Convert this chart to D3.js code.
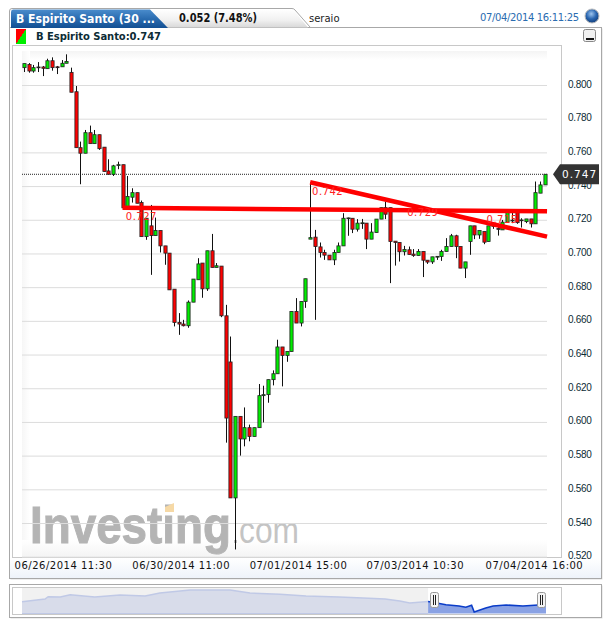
<!DOCTYPE html>
<html>
<head>
<meta charset="utf-8">
<script src="https://cdnjs.cloudflare.com/ajax/libs/d3/7.8.5/d3.min.js"></script>
<style>
html,body{margin:0;padding:0;background:#fff;overflow:hidden;}
svg{display:block;}
text{font-family:"DejaVu Sans",sans-serif;}
</style>
</head>
<body>
<div class="container"></div>
<script>
var WIDTH = 613, HEIGHT = 627;

var opens = [.8103,.8122,.8083,.8107,.8107,.8097,.8144,.8108,.8108,.8129,.8075,.7960,.7628,.7595,.7717,.7652,.7705,.7631,.7490,.7470,.7523,.7527,.7271,.7334,.7361,.7302,.7100,.7164,.7106,.7136,.7045,.7002,.6788,.6590,.6581,.6571,.6711,.6844,.6943,.6790,.7016,.6917,.6925,.6630,.6356,.5549,.6033,.5899,.5966,.5914,.5966,.6156,.6162,.6251,.6286,.6445,.6395,.6418,.6656,.6587,.6715,.7085,.7097,.7039,.7006,.6990,.6962,.7006,.7045,.7207,.7209,.7144,.7177,.7180,.7085,.7124,.7204,.7272,.7272,.7073,.7065,.7010,.7022,.6996,.6988,.7012,.6960,.6950,.6978,.6982,.7012,.7041,.7105,.7041,.6913,.7071,.7164,.7110,.7130,.7071,.7161,.7148,.7140,.7186,.7193,.7243,.7195,.7189,.7205,.7176,.7358,.7407];
var closes = [.8127,.8083,.8103,.8104,.8099,.8144,.8103,.8103,.8129,.8140,.7957,.7628,.7595,.7717,.7652,.7705,.7622,.7486,.7470,.7520,.7527,.7271,.7338,.7361,.7298,.7100,.7209,.7106,.7136,.7045,.7002,.6784,.6590,.6581,.6571,.6711,.6848,.6938,.6790,.7016,.6917,.6927,.6630,.6023,.5549,.6033,.5899,.5966,.5914,.5966,.6156,.6162,.6251,.6286,.6445,.6395,.6418,.6656,.6587,.6715,.6850,.7094,.7041,.7006,.6990,.6962,.7006,.7045,.7209,.7211,.7144,.7180,.7182,.7085,.7127,.7204,.7272,.7233,.7071,.7065,.7010,.7023,.6994,.6988,.7012,.6960,.6949,.6980,.6983,.7012,.7041,.7105,.7041,.6913,.6950,.7164,.7110,.7136,.7067,.7164,.7166,.7143,.7186,.7243,.7198,.7183,.7199,.7205,.7176,.7361,.7407,.7470];
var highs = [.8127,.8130,.8119,.8136,.8113,.8156,.8164,.8113,.8148,.8182,.8103,.7994,.7664,.7733,.7759,.7733,.7705,.7631,.7559,.7526,.7545,.7527,.7460,.7387,.7361,.7314,.7209,.7288,.7213,.7136,.7045,.7002,.6788,.6646,.6606,.6721,.6848,.6972,.6943,.7016,.7116,.6943,.6925,.6695,.6507,.6033,.6033,.6086,.5984,.5966,.6225,.6215,.6251,.6306,.6488,.6445,.6418,.6656,.6735,.6715,.6850,.7423,.7140,.7065,.7022,.6990,.7022,.7065,.7239,.7213,.7209,.7204,.7205,.7180,.7180,.7204,.7272,.7308,.7272,.7073,.7065,.7045,.7041,.7026,.7026,.7012,.6960,.6980,.6983,.7022,.7091,.7116,.7111,.7041,.6950,.7164,.7164,.7136,.7130,.7164,.7174,.7166,.7199,.7243,.7249,.7243,.7209,.7205,.7205,.7427,.7427,.7470];
var lows = [.8077,.8073,.8073,.8077,.8053,.8097,.8085,.8065,.8108,.8129,.7957,.7628,.7411,.7595,.7652,.7652,.7615,.7486,.7470,.7460,.7500,.7271,.7271,.7302,.7298,.7100,.7081,.6873,.7106,.7006,.6933,.6784,.6567,.6517,.6567,.6559,.6711,.6844,.6737,.6778,.6917,.6917,.6622,.5877,.5549,.5243,.5800,.5855,.5885,.5914,.5966,.5997,.6114,.6217,.6286,.6211,.6357,.6418,.6587,.6567,.6677,.7085,.6606,.6976,.6962,.6962,.6931,.7006,.7045,.7105,.7121,.7130,.7146,.7026,.7085,.7124,.7204,.7204,.6824,.6928,.6952,.6988,.6994,.6980,.6988,.6860,.6938,.6938,.6962,.6956,.7012,.7041,.6972,.6913,.6854,.6992,.7085,.7087,.7055,.7071,.7146,.7106,.7140,.7186,.7180,.7176,.7154,.7180,.7154,.7176,.7358,.7407];

var yTicks = [.52,.54,.56,.58,.60,.62,.64,.66,.68,.70,.72,.74,.76,.78,.80];
var xTickIndex = [8.3,33.4,58.4,83.3,108.7];
var xTickLabels = ["06/26/2014 11:30","06/30/2014 11:00","07/01/2014 15:00","07/03/2014 10:30","07/04/2014 16:00"];

var lastPrice = 0.747;
var trendLines = [
    [{i:21,v:.7271},{i:111.5,v:.7250}],
    [{i:61,v:.7423},{i:111.5,v:.7100}]
];
var drawLabels = [
    {i:21.7,v:.7199,t:"0.727"},
    {i:61.4,v:.7346,t:"0.742"},
    {i:81.7,v:.7223,t:"0.729"},
    {i:98.6,v:.7182,t:"0.715"}
];

var navPos = [0,4.4,5,7.3,9.2,13.9,18.7,23.5,26.3,32.1,39.7,43.5,49.2,54.2,60.5,65.1,69.3,72.1,74,77.5,79.4,80.9,83.4,84.7,85.8,86.3,88.5,89.9,92.4,95.6,98.5,100];
var navVals = [.83,.91,.978,.97,1.038,.97,1.029,1,1.088,1.177,1.177,1.088,1.05,1,.97,.94,.91,.851,.791,.836,.782,.741,.702,.664,.723,.524,.643,.702,.732,.702,.732,.747];
var navStart = 77.5;

var svg = d3.select('.container').append('svg')
    .attr('width',WIDTH)
    .attr('height',HEIGHT);

var defs = svg.append('defs');

var addGradient = function(id,stops,horizontal){
    var g = defs.append('linearGradient').attr('id',id)
        .attr('x1',0).attr('y1',0)
        .attr('x2',horizontal ? 1 : 0).attr('y2',horizontal ? 0 : 1);
    stops.forEach(function(s){
        g.append('stop').attr('offset',s[0]).attr('stop-color',s[1]);
    });
};
addGradient('tabBlue',[[0,'#4a8ccc'],[.5,'#2a6cb0'],[1,'#124f93']]);
addGradient('tabGrey',[[0,'#ffffff'],[.6,'#f0f0f0'],[1,'#d8d8d8']]);
addGradient('plotTop',[[0,'#f4f4f4'],[1,'#ffffff']]);
addGradient('plotBottom',[[0,'#ffffff'],[1,'#f4f4f4']]);
addGradient('plotLeft',[[0,'#f6f6f6'],[1,'#ffffff']],true);
addGradient('axisStrip',[[0,'#ffffff'],[1,'#eef3fa']]);

var icon = defs.append('linearGradient').attr('id','legendIcon')
    .attr('x1',0).attr('y1',0).attr('x2',1).attr('y2',1);
icon.append('stop').attr('offset',.5).attr('stop-color','#ff0000');
icon.append('stop').attr('offset',.5).attr('stop-color','#00ee00');

var ball = defs.append('radialGradient').attr('id','ball').attr('cx',.45).attr('cy',.35).attr('r',.65);
ball.append('stop').attr('offset',0).attr('stop-color','#9cc4ee');
ball.append('stop').attr('offset',.55).attr('stop-color','#2a66b0');
ball.append('stop').attr('offset',1).attr('stop-color','#123f7c');

// scales
var xScale = d3.scaleLinear().domain([0,opens.length-1]).range([24,544.7]);
var yScale = d3.scaleLinear().domain([.52,.80]).range([556.7,85]);

// outer panels
svg.append('rect').attr('x',10.5).attr('y',28.5).attr('width',592).attr('height',551).attr('fill','#ddd');
svg.append('rect').attr('x',9.5).attr('y',27.5).attr('width',592).attr('height',551)
    .attr('fill','#fff').attr('stroke','#a8a8a8');
svg.append('rect').attr('x',10).attr('y',558).attr('width',591).attr('height',20).attr('fill','url(#axisStrip)');

// header tabs
svg.append('path').attr('d','M150,9.5 L293,9.5 L308,27.5 L160,27.5 Z')
    .attr('fill','url(#tabGrey)').attr('stroke','none');
svg.append('path').attr('d','M148,8.5 L292,8.5 Q294,8.5 295,10 L310,27').attr('fill','none').attr('stroke','#a8a8a8');
svg.append('path').attr('d','M9.5,27 L9.5,11 Q9.5,8.5 12,8.5 L150,8.5').attr('fill','none').attr('stroke','#a8a8a8');
svg.append('path').attr('d','M11,28 L11,12 Q11,9.5 13,9.5 L150,9.5 L168,28 Z').attr('fill','url(#tabBlue)');

svg.append('text').attr('x',16).attr('y',23).attr('fill','#fff')
    .style('font-size','12px').style('font-family','"DejaVu Sans"').style('font-weight','bold')
    .attr('textLength',139).attr('lengthAdjust','spacingAndGlyphs')
    .text('B Espirito Santo (30 ...');
svg.append('text').attr('x',179).attr('y',22).attr('fill','#111')
    .style('font-size','12px').style('font-family','"DejaVu Sans"').style('font-weight','bold')
    .attr('textLength',78).attr('lengthAdjust','spacingAndGlyphs')
    .text('0.052 (7.48%)');
svg.append('text').attr('x',309).attr('y',22).attr('fill','#222')
    .style('font-size','10px').text('seraio');
svg.append('text').attr('x',579).attr('y',21).attr('text-anchor','end').attr('fill','#2a6cb0')
    .style('font-size','10px').attr('textLength',99).text('07/04/2014 16:11:25');
svg.append('circle').attr('cx',592).attr('cy',16).attr('r',7)
    .attr('fill','url(#ball)').attr('stroke','#bbb');

// minimise button
svg.append('rect').attr('x',583.5).attr('y',29.5).attr('width',12).attr('height',12).attr('rx',2)
    .attr('fill','#f0f0f0').attr('stroke','#888');
svg.append('rect').attr('x',586).attr('y',38).attr('width',8).attr('height',2).attr('fill','#111');

// legend row
svg.append('rect').attr('x',16).attr('y',29).attr('width',10).attr('height',15).attr('fill','url(#legendIcon)');
svg.append('text').attr('x',36).attr('y',40).attr('fill','#0c2b35')
    .style('font-size','10px').style('font-weight','bold')
    .attr('textLength',125).text('B Espirito Santo:0.747');

// plot frame and background
svg.append('rect').attr('x',12.5).attr('y',45.5).attr('width',549).attr('height',512)
    .attr('fill','#fff').attr('stroke','#c8c8c8');
svg.append('rect').attr('x',22).attr('y',51).attr('width',525).attr('height',9).attr('fill','url(#plotTop)');
svg.append('rect').attr('x',22).attr('y',51).attr('width',8).attr('height',506).attr('fill','url(#plotLeft)');
svg.append('rect').attr('x',22).attr('y',540).attr('width',525).attr('height',17).attr('fill','url(#plotBottom)');

// watermark
var mark = svg.append('g');
mark.append('text').attr('x',30).attr('y',543).attr('fill','#b4b4b4')
    .attr('stroke','#b4b4b4').attr('stroke-width',1)
    .style('font-family','"Liberation Sans"').style('font-weight','bold').style('font-size','52px')
    .attr('textLength',201).attr('lengthAdjust','spacingAndGlyphs').text('Investing');
mark.append('path').attr('d','M165,507 L174,503 L174,512 L165,512 Z').attr('fill','#f6d9a6');
mark.append('text').attr('x',239).attr('y',543).attr('fill','#c4c4c4')
    .style('font-family','"Liberation Sans"').style('font-size','36px')
    .attr('textLength',60).attr('lengthAdjust','spacingAndGlyphs').text('com');
mark.append('rect').attr('x',234).attr('y',540).attr('width',3).attr('height',3).attr('fill','#c4c4c4');

// gridlines
var grid = svg.append('g').attr('transform','translate(547,0)')
    .call(d3.axisLeft(yScale).tickValues(yTicks).tickSize(525).tickFormat(''));
grid.select('.domain').remove();
grid.selectAll('line').attr('stroke','#dcdcdc');

// y axis
var yAxis = svg.append('g').attr('transform','translate(568,0)')
    .call(d3.axisRight(yScale).tickValues(yTicks).tickSize(0).tickPadding(0).tickFormat(d3.format('.3f')));
yAxis.select('.domain').remove();
yAxis.selectAll('text').attr('fill','#0c2b35')
    .style('font-family','"Liberation Sans"').style('font-size','10px')
    .style('letter-spacing','-.3px').attr('dy','.2em');

// x axis
var xAxis = svg.append('g').attr('transform','translate(0,560)')
    .call(d3.axisBottom(xScale).tickValues(xTickIndex).tickSize(0).tickPadding(0)
        .tickFormat(function(d,i){return xTickLabels[i];}));
xAxis.select('.domain').remove();
xAxis.selectAll('text').attr('fill','#111')
    .style('font-size','10px').style('letter-spacing','.5px').attr('dy','.9em');

// last price dotted line
svg.append('line').attr('x1',22).attr('x2',547)
    .attr('y1',yScale(lastPrice)).attr('y2',yScale(lastPrice))
    .attr('stroke','#222').attr('stroke-dasharray','1,1');

// candles
var indexes = d3.range(opens.length);
var candles = svg.append('g').selectAll('g').data(indexes).enter().append('g');
candles.append('line')
    .attr('x1',function(i){return Math.round(xScale(i))+.5;})
    .attr('x2',function(i){return Math.round(xScale(i))+.5;})
    .attr('y1',function(i){return yScale(highs[i]);})
    .attr('y2',function(i){return yScale(lows[i]);})
    .attr('stroke','#111');
candles.append('rect')
    .attr('x',function(i){return Math.round(xScale(i))-1.1;})
    .attr('width',3.2)
    .attr('y',function(i){return yScale(Math.max(opens[i],closes[i]));})
    .attr('height',function(i){return Math.max(.8,Math.abs(yScale(opens[i])-yScale(closes[i])));})
    .attr('fill',function(i){return closes[i]>=opens[i] ? '#00ee00' : '#ff0000';})
    .attr('stroke','#222').attr('stroke-width',.8);

// trend lines drawn by the user
var _line = d3.line()
    .x(function(d){return xScale(d.i);})
    .y(function(d){return yScale(d.v);});
svg.append('g').selectAll('path').data(trendLines).enter().append('path')
    .attr('d',_line).attr('fill','none').attr('stroke','#ff0000').attr('stroke-width',4.5);
svg.append('g').selectAll('text').data(drawLabels).enter().append('text')
    .attr('x',function(d){return xScale(d.i);})
    .attr('y',function(d){return yScale(d.v);})
    .attr('fill','#ff2020').style('font-size','10px').style('letter-spacing','.5px')
    .text(function(d){return d.t;});

// price tag
var tagY = yScale(lastPrice);
svg.append('path')
    .attr('d','M553,'+tagY+' L560,'+(tagY-10)+' L599,'+(tagY-10)+' L599,'+(tagY+10)+' L560,'+(tagY+10)+' Z')
    .attr('fill','#333');
svg.append('text').attr('x',562).attr('y',tagY+4).attr('fill','#fff')
    .style('font-size','10.5px').style('letter-spacing','1px').text(d3.format('.3f')(lastPrice));

// navigator
svg.append('rect').attr('x',10.5).attr('y',585.5).attr('width',592).attr('height',33).attr('fill','#ddd');
svg.append('rect').attr('x',9.5).attr('y',584.5).attr('width',592).attr('height',33)
    .attr('fill','#fff').attr('stroke','#a8a8a8');
svg.append('rect').attr('x',12.5).attr('y',587.5).attr('width',549).attr('height',27)
    .attr('fill','#fff').attr('stroke','#c8c8c8');

var navX = d3.scaleLinear().domain([0,100]).range([22,546]);
var navY = d3.scaleLinear().domain([.494,1.237]).range([613,588]);
var navPoints = navPos.map(function(p,i){return {p:p,v:navVals[i]};});
var navSel = navPoints.filter(function(d){return d.p>=navStart;});

var navLine = d3.line().x(function(d){return navX(d.p);}).y(function(d){return navY(d.v);});
var navArea = d3.area().x(function(d){return navX(d.p);}).y0(613.5).y1(function(d){return navY(d.v);});

svg.append('rect').attr('x',navX(0)).attr('y',588).attr('width',navX(navStart)-navX(0)).attr('height',26).attr('fill','#f1f1f1');
svg.append('path').attr('d',navArea(navPoints.filter(function(d){return d.p<=navStart;}))).attr('fill','#d8dcea');
svg.append('path').attr('d',navLine(navPoints.filter(function(d){return d.p<=navStart;})))
    .attr('fill','none').attr('stroke','#c0c9e6').attr('stroke-width',1.5);
svg.append('line').attr('x1',navX(0)).attr('x2',navX(navStart)).attr('y1',613.5).attr('y2',613.5).attr('stroke','#c0c9e6');
svg.append('path').attr('d',navArea(navSel)).attr('fill','#8aa2e4');
svg.append('path').attr('d',navLine(navSel)).attr('fill','none').attr('stroke','#0a3cc8').attr('stroke-width',1.6);

var handles = svg.append('g').selectAll('g').data([navStart+1.1,99]).enter().append('g')
    .attr('transform',function(d){return 'translate('+Math.round(navX(d))+',0)';});
handles.append('rect').attr('x',-3.5).attr('y',592.5).attr('width',8).attr('height',15).attr('rx',2)
    .attr('fill','#f4f4f4').attr('stroke','#999');
handles.append('rect').attr('x',-1).attr('y',595).attr('width',1).attr('height',10).attr('fill','#222');
handles.append('rect').attr('x',1).attr('y',595).attr('width',1).attr('height',10).attr('fill','#222');
</script>
</body>
</html>
